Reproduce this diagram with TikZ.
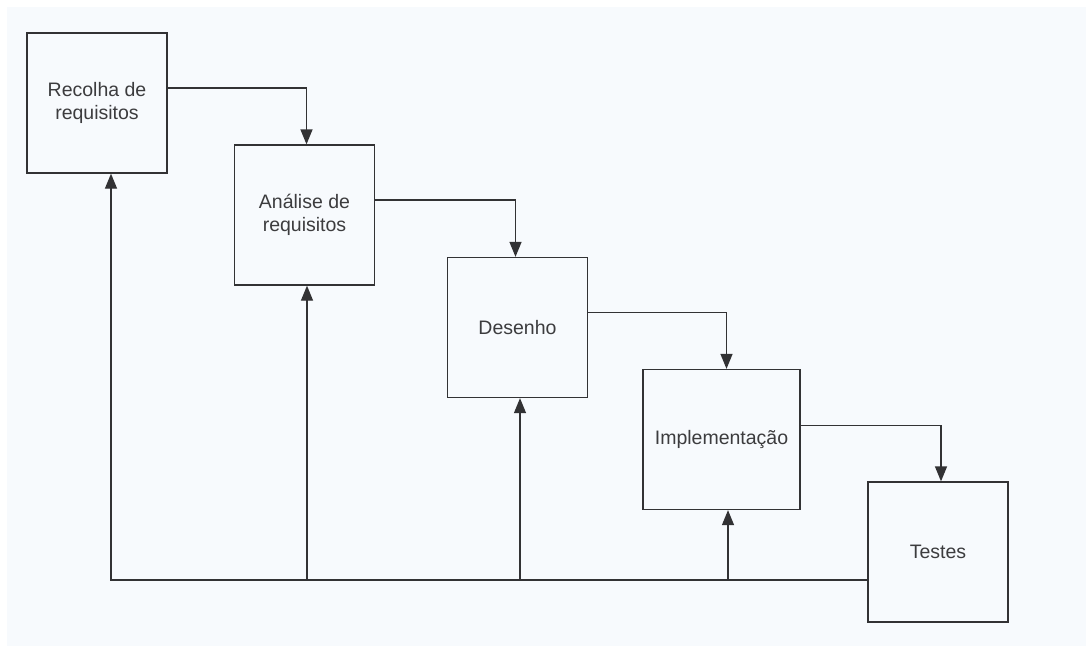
\documentclass[tikz,border=0pt]{standalone}
\usepackage{fontspec}
\setmainfont{Liberation Sans}
\usetikzlibrary{arrows.meta}
\definecolor{paper}{RGB}{247,250,253}
\definecolor{ink}{RGB}{50,50,52}
\definecolor{txt}{RGB}{60,60,62}

\begin{document}
\begin{tikzpicture}[
  x=1pt,y=-1pt,
  font=\fontsize{19.5}{23.5}\selectfont,
  phase/.style={draw=ink,line width=1.3pt,fill=paper,text=txt,align=center,
                minimum width=140pt,minimum height=140pt,inner sep=0pt},
  flow/.style={ink,line width=1.3pt,-{Triangle[length=15pt,width=12pt]}},
]

% ============================ FRAME ============================
\fill[white] (0,0) rectangle (1086,646);
\fill[paper] (7,7) rectangle (1086,646);
\useasboundingbox (0,0) rectangle (1086,646);

% ---- the phases, stepping down to the right ----
\node[phase] (rec) at (97,103)    {Recolha de\\requisitos};
\node[phase] (ana) at (304.5,215) {Análise de\\requisitos};
\node[phase] (des) at (517.5,327.5) {Desenho};
\node[phase,minimum width=157pt] (imp) at (721.5,439.5) {Implementação};
\node[phase] (tst) at (938,552)   {Testes};

% ---- forward steps ----
\draw[flow] ([yshift=15pt]rec.east) -| ([xshift=2pt]ana.north);
\draw[flow] ([yshift=15pt]ana.east) -| ([xshift=-2pt]des.north);
\draw[flow] ([yshift=15pt]des.east) -| ([xshift=5pt]imp.north);
\draw[flow] ([yshift=14pt]imp.east) -| ([xshift=3pt]tst.north);

% ---- feedback from the tests ----
\coordinate (fb) at ([yshift=-28pt]tst.west);
\draw[flow] (fb) -| ([xshift=14pt]rec.south);
\foreach \n/\dx in {ana/2.5,des/2.5,imp/6.5}{
  \draw[flow] ([xshift=\dx pt]\n.south |- fb) -- ([xshift=\dx pt]\n.south);
}

\end{tikzpicture}
\end{document}
